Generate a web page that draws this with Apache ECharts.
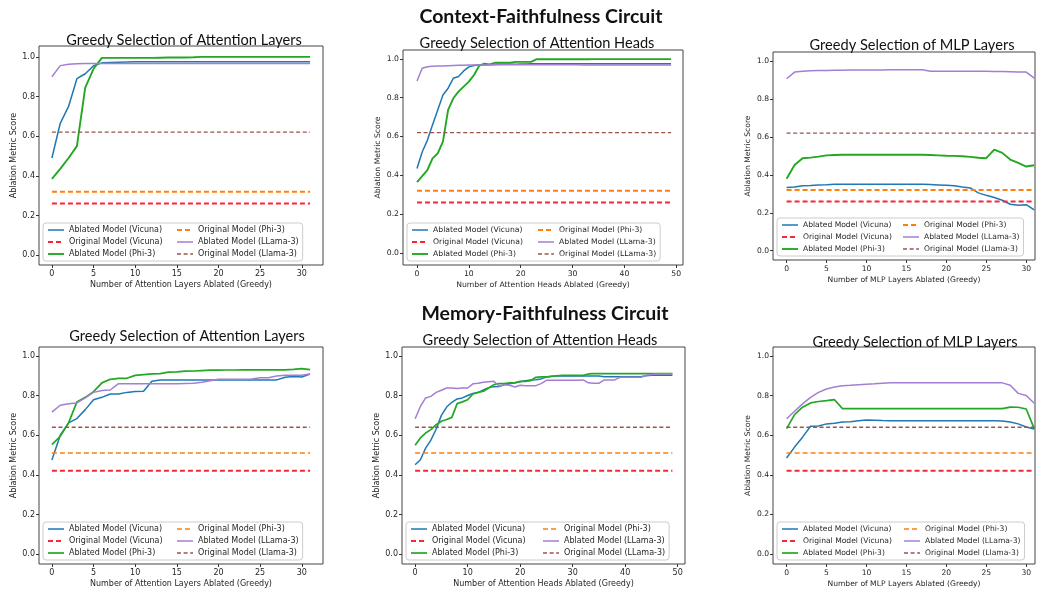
<!DOCTYPE html>
<html>
<head>
<meta charset="utf-8">
<script src="https://cdn.jsdelivr.net/npm/echarts@6/dist/echarts.min.js"></script>
<style>
html,body{margin:0;padding:0;background:#fff;}
#chart{width:1046px;height:592px;}
</style>
</head>
<body>
<div id="chart"></div>
<script>
// ---------------- DATA ----------------
const layerX = [0,1,2,3,4,5,6,7,8,9,10,11,12,13,14,15,16,17,18,19,20,21,22,23,24,25,26,27,28,29,30,31];
const headX = [0,1,2,3,4,5,6,7,8,9,10,11,12,13,14,15,16,17,18,19,20,21,22,23,24,25,26,27,28,29,30,31,32,33,34,35,36,37,38,39,40,41,42,43,44,45,46,47,48,49];
const layerTicks = [0,5,10,15,20,25,30];
const headTicks = [0,10,20,30,40,50];
const yTicks = [0,0.2,0.4,0.6,0.8,1.0];

const mainTitles = ["Context-Faithfulness Circuit", "Memory-Faithfulness Circuit"];
const panelTitles = ["Greedy Selection of Attention Layers", "Greedy Selection of Attention Heads", "Greedy Selection of MLP Layers",
                     "Greedy Selection of Attention Layers", "Greedy Selection of Attention Heads", "Greedy Selection of MLP Layers"];
const xAxisNames = ["Number of Attention Layers Ablated (Greedy)", "Number of Attention Heads Ablated (Greedy)", "Number of MLP Layers Ablated (Greedy)",
                    "Number of Attention Layers Ablated (Greedy)", "Number of Attention Heads Ablated (Greedy)", "Number of MLP Layers Ablated (Greedy)"];
const yAxisName = "Ablation Metric Score";

const legendNamesA = ["Ablated Model (Vicuna)", "Original Model (Vicuna)", "Ablated Model (Phi-3)", "Original Model (Phi-3)", "Ablated Model (LLama-3)", "Original Model (Llama-3)"];
const legendNamesB = ["Ablated Model (Vicuna)", "Original Model (Vicuna)", "Ablated Model (Phi-3)", "Original Model (Phi-3)", "Ablated Model (LLama-3)", "Original Model (LLama-3)"];

// Context-faithfulness: attention layers
const ctxLayVicuna = [0.49,0.665,0.75,0.89,0.915,0.955,0.97,0.972,0.973,0.974,0.975,0.975,0.975,0.975,0.975,0.975,0.975,0.975,0.975,0.975,0.975,0.975,0.975,0.975,0.975,0.975,0.975,0.975,0.975,0.975,0.975,0.975];
const ctxLayPhi3   = [0.385,0.435,0.49,0.55,0.845,0.94,0.995,0.995,0.995,0.995,0.995,0.995,0.995,0.996,0.997,0.997,0.997,0.998,1.0,1.0,1.0,1.0,1.0,1.0,1.0,1.0,1.0,1.0,1.0,1.0,1.0,1.0];
const ctxLayLlama  = [0.9,0.956,0.963,0.966,0.967,0.967,0.967,0.967,0.967,0.967,0.967,0.967,0.967,0.967,0.967,0.967,0.967,0.967,0.967,0.967,0.967,0.967,0.967,0.967,0.967,0.967,0.967,0.967,0.967,0.967,0.967,0.967];
// Context-faithfulness: attention heads
const ctxHeadVicuna = [0.435,0.52,0.58,0.66,0.737,0.814,0.849,0.9,0.909,0.938,0.959,0.966,0.969,0.97,0.97,0.971,0.972,0.972,0.973,0.973,0.974,0.974,0.975,0.975,0.975,0.975,0.975,0.975,0.975,0.975,0.975,0.975,0.975,0.975,0.975,0.975,0.975,0.975,0.975,0.975,0.975,0.975,0.975,0.975,0.975,0.975,0.975,0.975,0.975,0.975];
const ctxHeadPhi3   = [0.365,0.396,0.427,0.487,0.513,0.573,0.737,0.797,0.831,0.857,0.883,0.917,0.965,0.975,0.972,0.98,0.98,0.98,0.98,0.985,0.985,0.985,0.985,0.998,0.998,0.998,0.998,0.998,0.998,0.998,0.998,0.998,0.998,0.998,0.999,0.999,0.999,0.999,0.999,0.999,0.999,0.999,0.999,0.999,0.999,0.999,0.999,0.999,0.999,0.999];
const ctxHeadLlama  = [0.886,0.952,0.96,0.962,0.963,0.964,0.965,0.966,0.967,0.967,0.968,0.968,0.969,0.969,0.97,0.97,0.97,0.97,0.97,0.97,0.97,0.97,0.97,0.97,0.97,0.97,0.97,0.97,0.97,0.97,0.97,0.97,0.969,0.969,0.969,0.969,0.969,0.969,0.969,0.969,0.969,0.969,0.969,0.969,0.969,0.969,0.969,0.969,0.968,0.968];
// Context-faithfulness: MLP layers
const ctxMlpVicuna = [0.334,0.336,0.342,0.344,0.347,0.348,0.35,0.351,0.351,0.351,0.351,0.351,0.351,0.351,0.351,0.351,0.35,0.35,0.349,0.347,0.345,0.342,0.336,0.331,0.305,0.292,0.281,0.266,0.245,0.24,0.243,0.215];
const ctxMlpPhi3   = [0.379,0.452,0.488,0.491,0.496,0.503,0.505,0.506,0.506,0.506,0.506,0.506,0.506,0.506,0.506,0.506,0.506,0.506,0.505,0.503,0.501,0.5,0.498,0.495,0.49,0.488,0.533,0.516,0.481,0.463,0.444,0.451];
const ctxMlpLlama  = [0.907,0.942,0.947,0.949,0.95,0.951,0.952,0.952,0.953,0.953,0.953,0.953,0.953,0.954,0.954,0.954,0.954,0.954,0.947,0.947,0.947,0.947,0.947,0.946,0.946,0.946,0.945,0.945,0.944,0.943,0.942,0.91];
// Memory-faithfulness: attention layers
const memLayVicuna = [0.475,0.6,0.662,0.684,0.729,0.779,0.791,0.808,0.808,0.816,0.82,0.822,0.872,0.879,0.879,0.879,0.879,0.879,0.879,0.879,0.879,0.879,0.879,0.879,0.879,0.879,0.879,0.879,0.892,0.896,0.894,0.909];
const memLayPhi3   = [0.552,0.594,0.662,0.768,0.791,0.82,0.864,0.882,0.887,0.887,0.902,0.906,0.909,0.911,0.918,0.919,0.923,0.924,0.926,0.928,0.928,0.929,0.929,0.93,0.93,0.93,0.93,0.93,0.93,0.932,0.936,0.931];
const memLayLlama  = [0.716,0.751,0.759,0.763,0.788,0.816,0.826,0.828,0.86,0.86,0.86,0.86,0.86,0.86,0.86,0.86,0.861,0.862,0.867,0.875,0.882,0.882,0.882,0.882,0.883,0.89,0.89,0.899,0.902,0.902,0.903,0.909];
// Memory-faithfulness: attention heads
const memHeadVicuna = [0.451,0.476,0.535,0.575,0.63,0.7,0.742,0.766,0.783,0.788,0.8,0.81,0.815,0.828,0.84,0.845,0.846,0.855,0.859,0.865,0.87,0.875,0.878,0.88,0.884,0.893,0.897,0.899,0.899,0.899,0.899,0.899,0.899,0.899,0.899,0.899,0.895,0.895,0.895,0.895,0.895,0.895,0.895,0.895,0.9,0.902,0.902,0.902,0.902,0.902];
const memHeadPhi3   = [0.549,0.586,0.611,0.628,0.653,0.67,0.679,0.69,0.759,0.768,0.779,0.808,0.816,0.822,0.838,0.855,0.86,0.86,0.864,0.864,0.872,0.872,0.875,0.892,0.894,0.894,0.897,0.9,0.902,0.902,0.902,0.902,0.902,0.909,0.911,0.911,0.911,0.911,0.911,0.911,0.911,0.911,0.911,0.911,0.911,0.911,0.911,0.911,0.911,0.911];
const memHeadLlama  = [0.683,0.745,0.788,0.796,0.816,0.827,0.838,0.838,0.835,0.838,0.838,0.859,0.862,0.867,0.87,0.872,0.847,0.855,0.852,0.843,0.852,0.849,0.849,0.85,0.86,0.877,0.877,0.877,0.877,0.877,0.877,0.877,0.879,0.864,0.862,0.862,0.879,0.879,0.879,0.892,0.892,0.892,0.892,0.892,0.902,0.906,0.909,0.909,0.909,0.909];
// Memory-faithfulness: MLP layers
const memMlpVicuna = [0.485,0.54,0.59,0.645,0.646,0.657,0.66,0.667,0.668,0.673,0.677,0.676,0.674,0.673,0.673,0.673,0.673,0.673,0.673,0.673,0.673,0.673,0.673,0.673,0.673,0.673,0.673,0.672,0.667,0.657,0.641,0.631];
const memMlpPhi3   = [0.633,0.704,0.741,0.763,0.77,0.774,0.779,0.734,0.734,0.734,0.734,0.734,0.734,0.734,0.734,0.734,0.734,0.734,0.734,0.734,0.734,0.734,0.734,0.734,0.734,0.734,0.734,0.734,0.742,0.741,0.732,0.633];
const memMlpLlama  = [0.683,0.721,0.758,0.791,0.816,0.833,0.843,0.85,0.852,0.855,0.857,0.859,0.862,0.864,0.864,0.864,0.864,0.864,0.864,0.864,0.864,0.864,0.864,0.864,0.864,0.864,0.864,0.864,0.852,0.811,0.8,0.761];

// Original (un-ablated) model scores: [Vicuna, Phi-3, Llama-3]
const ctxOriginal = [0.26, 0.32, 0.62];
const memOriginal = [0.42, 0.51, 0.64];

// ---------------- LAYOUT / STYLE ----------------
const C = { blue:'#1f77b4', red:'#f5283a', green:'#22a822', orange:'#ff7f0e', purple:'#a47ed2', brown:'#98564b' };
const FONT = 'DejaVu Sans';
const TXT = '#262626';
const TITLE_FONT = 'Lato';

const panels = [
  { x: layerX, ticks: layerTicks, ab: [ctxLayVicuna, ctxLayPhi3, ctxLayLlama], orig: ctxOriginal, names: legendNamesA,
    grid:{left:39, top:46, width:284, height:219}, xr:[-1.55,32.55], yr:[-0.05,1.055], fs:8, legW:103, title:[184,40], top:true },
  { x: headX, ticks: headTicks, ab: [ctxHeadVicuna, ctxHeadPhi3, ctxHeadLlama], orig: ctxOriginal, names: legendNamesB,
    grid:{left:403, top:50, width:280, height:215}, xr:[-2.7,51.3], yr:[-0.063,1.046], fs:7.7, legW:100, title:[537,43], top:true },
  { x: layerX, ticks: layerTicks, ab: [ctxMlpVicuna, ctxMlpPhi3, ctxMlpLlama], orig: ctxOriginal, names: legendNamesA,
    grid:{left:773, top:52, width:262, height:208}, xr:[-1.7,31.1], yr:[-0.049,1.048], fs:7.6, legW:95, title:[912,45], top:true },
  { x: layerX, ticks: layerTicks, ab: [memLayVicuna, memLayPhi3, memLayLlama], orig: memOriginal, names: legendNamesA,
    grid:{left:39, top:347, width:284, height:217}, xr:[-1.55,32.55], yr:[-0.05,1.045], fs:8, legW:103, title:[187,336], top:false },
  { x: headX, ticks: headTicks, ab: [memHeadVicuna, memHeadPhi3, memHeadLlama], orig: memOriginal, names: legendNamesB,
    grid:{left:402, top:347, width:283, height:217}, xr:[-2.5,51.4], yr:[-0.05,1.045], fs:8, legW:106, title:[540,340], top:false },
  { x: layerX, ticks: layerTicks, ab: [memMlpVicuna, memMlpPhi3, memMlpLlama], orig: memOriginal, names: legendNamesA,
    grid:{left:773, top:347, width:262, height:217}, xr:[-1.7,31.1], yr:[-0.05,1.045], fs:7.6, legW:96, title:[915,342], top:false }
];

const grids = [], xAxes = [], yAxes = [], series = [], legends = [], titles = [];

titles.push({ text: mainTitles[0], left: 541, top: 17, textAlign:'center', textVerticalAlign:'middle', padding:0,
  textStyle:{ fontFamily: TITLE_FONT, fontSize: 19.5, fontWeight:'bold', color:'#111' } });
titles.push({ text: mainTitles[1], left: 545, top: 314, textAlign:'center', textVerticalAlign:'middle', padding:0,
  textStyle:{ fontFamily: TITLE_FONT, fontSize: 19.5, fontWeight:'bold', color:'#111' } });

panels.forEach((p, i) => {
  grids.push({ left: p.grid.left, top: p.grid.top, width: p.grid.width, height: p.grid.height,
    show: true, borderColor: '#444', borderWidth: 1, backgroundColor: 'transparent', containLabel: false });
  titles.push({ text: panelTitles[i], left: p.title[0], top: p.title[1], textAlign:'center', textVerticalAlign:'middle', padding:0,
    textStyle:{ fontFamily: TITLE_FONT, fontSize: 14.6, fontWeight:'normal', color:'#111' } });
  xAxes.push({ gridIndex: i, type:'value', min: p.xr[0], max: p.xr[1],
    axisLine:{ show:false, onZero:false }, splitLine:{ show:false },
    axisTick:{ show:true, length:3, customValues: p.ticks, lineStyle:{ color:'#333', width:1 } },
    axisLabel:{ customValues: p.ticks, margin:5, fontFamily: FONT, fontSize: p.fs, color: TXT },
    name: xAxisNames[i], nameLocation:'middle', nameGap: 16,
    nameTextStyle:{ fontFamily: FONT, fontSize: p.fs, color: TXT } });
  yAxes.push({ gridIndex: i, type:'value', min: p.yr[0], max: p.yr[1],
    axisLine:{ show:false, onZero:false }, splitLine:{ show:false },
    axisTick:{ show:true, length:3, customValues: yTicks, lineStyle:{ color:'#333', width:1 } },
    axisLabel:{ customValues: yTicks, margin:4, fontFamily: FONT, fontSize: p.fs, color: TXT, formatter: v => v.toFixed(1) },
    name: yAxisName, nameLocation:'middle', nameGap: 21, nameRotate: 90,
    nameTextStyle:{ fontFamily: FONT, fontSize: p.fs, color: TXT } });

  const x0 = p.x[0], x1 = p.x[p.x.length - 1];
  const abColors = [C.blue, C.green, C.purple];
  const abWidths = p.top ? [1.5, 1.9, 1.5] : [1.5, 1.7, 1.5];
  const origColors = [C.red, C.orange, C.brown];
  const origWidths = p.top ? [2, 2, 1.3] : [2, 1.4, 1.3];
  const origDash = [[5,3],[5,3],[4,2.6]];
  for (let m = 0; m < 3; m++) {
    const abName = p.names[m * 2];
    const orName = p.names[m * 2 + 1];
    const ys = p.ab[m];
    series.push({ type:'line', name: abName, xAxisIndex: i, yAxisIndex: i,
      data: p.x.map((xv, k) => [xv, ys[k]]), symbol:'none', showSymbol:false, silent:true, animation:false,
      lineStyle:{ color: abColors[m], width: abWidths[m] }, itemStyle:{ color: abColors[m] } });
    series.push({ type:'line', name: orName, xAxisIndex: i, yAxisIndex: i,
      data: [[x0, p.orig[m]], [x1, p.orig[m]]], symbol:'none', showSymbol:false, silent:true, animation:false,
      lineStyle:{ color: origColors[m], width: origWidths[m], type: origDash[m] }, itemStyle:{ color: origColors[m] } });
  }
  const legStyles = [
    { color: C.blue, width: abWidths[0], type:'solid' },
    { color: C.red, width: origWidths[0], type: origDash[0] },
    { color: C.green, width: abWidths[1], type:'solid' },
    { color: C.orange, width: origWidths[1], type: origDash[1] },
    { color: C.purple, width: abWidths[2], type:'solid' },
    { color: C.brown, width: origWidths[2], type: origDash[2] }
  ];
  const col2W = Math.round(12.3 * p.fs);
  legends.push({
    show: true, type: 'plain',
    left: p.grid.left + 4, top: p.grid.top + p.grid.height - 4 - 38,
    orient:'vertical', height: 36, itemGap: 4, itemWidth: 16, itemHeight: 8,
    padding:[3,4,3,4], backgroundColor:'rgba(255,255,255,0.8)', borderColor:'#cccccc', borderWidth:1, borderRadius:3,
    selectedMode:false,
    textStyle:{ fontFamily: FONT, fontSize: p.fs, color: TXT, width: p.legW, backgroundColor: 'rgba(255,255,255,0)' },
    data: p.names.map((n, k) => ({ name: n, lineStyle: legStyles[k],
      itemStyle: { color: 'rgba(0,0,0,0)', opacity: 0, borderWidth: 0 },
      textStyle: k >= 3 ? { width: col2W } : {} }))
  });
});

const chart = echarts.init(document.getElementById('chart'), null, { renderer: 'canvas' });
chart.setOption({
  backgroundColor: '#fff',
  animation: false,
  title: titles,
  grid: grids,
  xAxis: xAxes,
  yAxis: yAxes,
  legend: legends,
  series: series
});
</script>
</body>
</html>
